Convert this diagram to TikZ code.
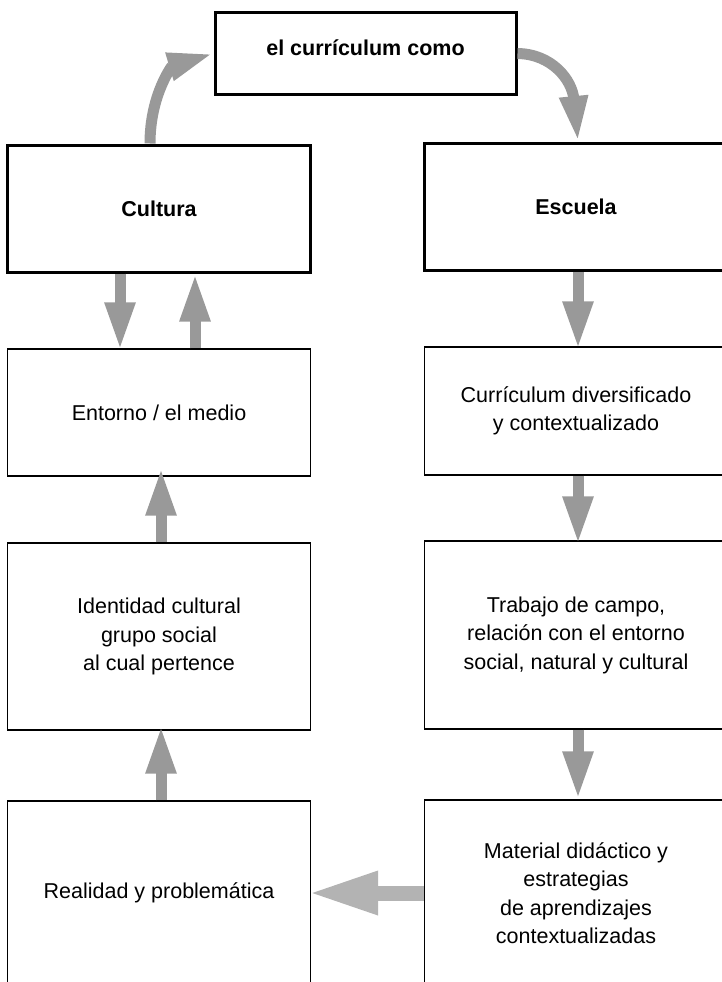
\documentclass[tikz,border=0pt]{standalone}
\usepackage{fontspec}
\setmainfont{Liberation Sans}
\usetikzlibrary{positioning,
	arrows.meta}
\definecolor{grisflecha}{HTML}{999999}
\definecolor{grisclaro}{HTML}{B3B3B3}

\begin{document}
\begin{tikzpicture}[x=1pt, y=-1pt,
	caja/.style={draw, line width=1.3pt, minimum width=303pt, inner sep=0pt, align=center, font=\fontsize{21.5}{28.5}\selectfont},
	cajagruesa/.style={caja, line width=3pt, font=\fontsize{21.5}{28.5}\selectfont\bfseries},
	flecha/.style={draw=grisflecha, line width=11pt, -{Triangle[length=48pt,width=28pt]}},
	flechacurva/.style={draw=grisflecha, line width=11pt, -{Triangle[length=46pt,width=26pt]}},
	flechaancha/.style={draw=grisclaro, line width=15pt, -{Triangle[length=70pt,width=40pt]}}]
	\useasboundingbox (0,0) rectangle (722,982);
	\clip (0,0) rectangle (722,982);
	% cajas de arriba
	\node (curriculum) [cajagruesa, minimum width=301pt, minimum height=81pt, text depth=12pt] at (365.5,53.5) {el currículum como};
	\node (cultura) [cajagruesa, minimum height=127pt] at (159,208.5) {Cultura};
	\node (escuela) [cajagruesa, minimum height=127pt] at (576,207) {Escuela};
	% columna izquierda
	\node (entorno) [caja, minimum height=127pt] at (159,412.5) {Entorno / el medio};
	\node (identidad) [caja, minimum height=187pt] at (159,636.5) {Identidad cultural\\grupo social\\al cual pertence};
	\node (realidad) [caja, minimum height=184pt] at (159,893) {Realidad y problemática};
	% columna derecha
	\node (diversificado) [caja, minimum height=128pt] at (576,411) {Currículum diversificado\\y contextualizado};
	\node (trabajo) [caja, minimum height=188pt] at (576,635) {Trabajo de campo,\\relación con el entorno\\social, natural y cultural};
	\node (material) [caja, minimum height=186pt] at (576,893) {Material didáctico y\\estrategias\\de aprendizajes\\contextualizadas};
	% flechas
	\draw[flechacurva] ([xshift=-9pt]cultura.north) .. controls (150,95) and (172,66) .. (curriculum.west);
	\draw[flechacurva] (curriculum.east) .. controls (552,54) and (572,80) .. ([xshift=2pt]escuela.north);
	\draw[flecha] ([xshift=-39pt]cultura.south) -- ([xshift=-39pt,yshift=-2pt]entorno.north);
	\draw[flecha] ([xshift=36pt]entorno.north) -- ([xshift=36pt]cultura.south);
	\draw[flecha] ([xshift=2pt]identidad.north) -- ([xshift=2pt,yshift=9pt]entorno.south);
	\draw[flecha] ([xshift=2pt]realidad.north) -- ([xshift=2pt,yshift=5pt]identidad.south);
	\draw[flecha] ([xshift=2pt]escuela.south) -- ([xshift=2pt,yshift=-3pt]diversificado.north);
	\draw[flecha] ([xshift=2pt]diversificado.south) -- ([xshift=2pt,yshift=-4pt]trabajo.north);
	\draw[flecha] ([xshift=2pt]trabajo.south) -- ([xshift=2pt]material.north);
	\draw[flechaancha] (material.west) -- ([xshift=-3pt]realidad.east);
\end{tikzpicture}
\end{document}
